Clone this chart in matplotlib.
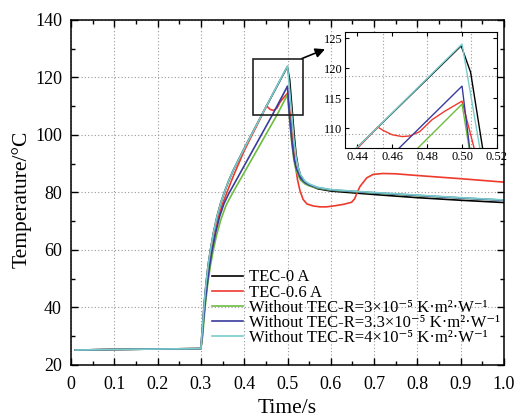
import matplotlib
matplotlib.use("Agg")
import matplotlib.pyplot as plt
from matplotlib.patches import Rectangle

plt.rcParams['font.family'] = ['Liberation Serif', 'DejaVu Serif']
plt.rcParams['mathtext.fontset'] = 'stix'

# ---------------- data ----------------
labels = ['TEC-0 A', 'TEC-0.6 A',
          'Without TEC-R=3×10⁻⁵ K·m²·W⁻¹',
          'Without TEC-R=3.3×10⁻⁵ K·m²·W⁻¹',
          'Without TEC-R=4×10⁻⁵ K·m²·W⁻¹']
colors = ['#000000', '#ee3a2c', '#6dbd3f', '#3b3b9e', '#79cccc']

base_t = [0.01, 0.10, 0.20, 0.30]
base_T = [25.2, 25.4, 25.55, 25.7]

t_black = [0.302, 0.305, 0.308, 0.312, 0.317, 0.322, 0.329, 0.337, 0.345, 0.354, 0.364,
           0.375, 0.40, 0.44, 0.4995, 0.5049, 0.5117, 0.516, 0.52, 0.525, 0.53, 0.54,
           0.55, 0.57, 0.60, 0.70, 0.80, 0.90, 1.00]
T_black = [30.0, 36.0, 42.0, 48.5, 55.0, 60.0, 66.0, 71.5, 76.0, 80.0, 84.0,
           87.8, 95.3, 106.8, 123.7, 119.3, 106.8, 99.0, 93.0, 88.5, 86.0, 83.6,
           82.5, 81.3, 80.5, 79.3, 78.2, 77.3, 76.5]

t_red = [0.303, 0.306, 0.310, 0.315, 0.320, 0.326, 0.333, 0.341, 0.350, 0.360, 0.369,
         0.378, 0.40, 0.44, 0.4517, 0.455, 0.46, 0.4658, 0.47, 0.4757, 0.4828, 0.49,
         0.50, 0.5068, 0.512, 0.517, 0.523, 0.529, 0.536, 0.545, 0.56, 0.575, 0.59,
         0.61, 0.63, 0.648, 0.655, 0.661, 0.667, 0.683, 0.698, 0.72, 0.75, 0.80,
         0.90, 1.00]
T_red = [30.0, 35.5, 42.0, 49.0, 55.0, 60.5, 66.0, 71.5, 76.0, 80.0, 83.5,
         86.8, 94.5, 106.6, 110.2, 109.6, 108.9, 108.6, 108.7, 109.4, 111.4, 112.8,
         114.5, 106.8, 98.0, 91.0, 84.5, 80.5, 77.6, 76.0, 75.3, 75.0, 75.0,
         75.4, 75.9, 76.6, 77.8, 80.0, 82.0, 85.1, 86.3, 86.6, 86.5, 85.9,
         84.8, 83.6]

t_green = [0.304, 0.307, 0.311, 0.316, 0.322, 0.328, 0.336, 0.346, 0.358, 0.372, 0.4751,
           0.50, 0.504, 0.51, 0.515, 0.52, 0.53, 0.54, 0.55, 0.57, 0.60, 0.70, 0.80,
           0.90, 1.00]
T_green = [30.0, 35.5, 42.0, 48.5, 54.5, 59.5, 65.0, 70.5, 75.5, 79.5, 106.8,
           114.0, 106.8, 97.0, 91.0, 87.5, 84.3, 83.0, 82.3, 81.5, 80.8, 79.8, 78.9,
           78.1, 77.3]

t_blue = [0.303, 0.306, 0.310, 0.315, 0.320, 0.326, 0.334, 0.343, 0.353, 0.364, 0.4644,
          0.50, 0.5043, 0.51, 0.515, 0.52, 0.53, 0.54, 0.55, 0.57, 0.60, 0.70, 0.80,
          0.90, 1.00]
T_blue = [30.0, 35.5, 42.0, 48.5, 54.5, 60.0, 66.0, 71.5, 76.0, 79.5, 106.8,
          117.0, 106.8, 98.0, 92.0, 88.5, 85.0, 83.5, 82.6, 81.7, 80.9, 79.9, 79.0,
          78.1, 77.3]

t_cyan = [0.302, 0.305, 0.308, 0.312, 0.317, 0.322, 0.329, 0.337, 0.345, 0.354, 0.364,
          0.375, 0.40, 0.44, 0.50, 0.5101, 0.515, 0.52, 0.525, 0.53, 0.54, 0.55,
          0.57, 0.60, 0.70, 0.80, 0.90, 1.00]
T_cyan = [30.0, 36.0, 42.0, 48.5, 55.0, 60.0, 66.0, 71.5, 76.0, 80.0, 84.0,
          87.8, 95.3, 106.8, 124.0, 106.8, 98.0, 92.0, 88.5, 86.2, 84.0, 83.0,
          81.8, 81.0, 80.0, 79.1, 78.2, 77.4]

series_t = [t_black, t_red, t_green, t_blue, t_cyan]
series_T = [T_black, T_red, T_green, T_blue, T_cyan]

x_ticks = [0, 0.1, 0.2, 0.3, 0.4, 0.5, 0.6, 0.7, 0.8, 0.9, 1.0]
x_ticklabels = ['0', '0.1', '0.2', '0.3', '0.4', '0.5', '0.6', '0.7', '0.8', '0.9', '1.0']
y_ticks = [20, 40, 60, 80, 100, 120, 140]
inset_xticks = [0.44, 0.46, 0.48, 0.50, 0.52]
inset_yticks = [110, 115, 120, 125]
inset_grid_x = [0.455, 0.480, 0.505]
inset_grid_y = [118.6, 109.1]

# ---------------- figure ----------------
fig = plt.figure(figsize=(5.17, 4.19), dpi=100)
ax = fig.add_axes([0.1373, 0.1289, 0.8376, 0.8234])

for t, T, c, lab in zip(series_t, series_T, colors, labels):
    ax.plot(base_t + t, base_T + T, color=c, lw=1.2, label=lab)

ax.set_xlim(0, 1.0)
ax.set_ylim(20, 140)
ax.set_xticks(x_ticks)
ax.set_xticklabels(x_ticklabels)
ax.set_yticks(y_ticks)
ax.set_xticks([0.05 + 0.1 * i for i in range(10)], minor=True)
ax.set_yticks([30, 50, 70, 90, 110, 130], minor=True)
ax.tick_params(which='both', direction='in', top=True, right=True, labelsize=13, width=1.0)
ax.tick_params(which='major', length=5)
ax.tick_params(which='minor', length=3)
ax.tick_params(axis='x', which='major', pad=8)
ax.tick_params(axis='y', which='major', pad=6.5)
ax.grid(True, which='major', linestyle=(0, (1, 2)), color='#999999', lw=0.8)
for s in ax.spines.values():
    s.set_linewidth(1.1)
ax.set_xlabel('Time/s', fontsize=15.5, labelpad=4)
ax.set_ylabel('Temperature/°C', fontsize=15.5)
ax.yaxis.set_label_coords(-0.09, 0.48)

leg = ax.legend(loc='lower left', bbox_to_anchor=(0.318, 0.045), frameon=False,
                fontsize=12, handlelength=1.85, handletextpad=0.35,
                labelspacing=-0.05, borderpad=0.2, borderaxespad=0)

ax.add_patch(Rectangle((0.42, 107.0), 0.1165, 19.4, fill=False, edgecolor='#222222', lw=1.2, zorder=5))
ax.annotate('', xy=(0.5925, 130.2), xytext=(0.527, 126.2),
            arrowprops=dict(arrowstyle='-|>', color='black', lw=1.2, mutation_scale=14))

# ---------------- inset ----------------
axi = fig.add_axes([0.6673, 0.6468, 0.294, 0.2768])
for t, T, c in zip(series_t, series_T, colors):
    axi.plot(base_t + t, base_T + T, color=c, lw=1.0)
axi.set_xlim(0.433, 0.52)
axi.set_ylim(106.7, 126.0)
axi.set_xticks(inset_xticks)
axi.set_xticklabels(['0.44', '0.46', '0.48', '0.50', '0.52'])
axi.set_yticks(inset_yticks)
axi.tick_params(direction='in', top=True, right=True, labelsize=9, length=3, pad=2)
for gx in inset_grid_x:
    axi.axvline(gx, linestyle=(0, (1, 2)), color='#999999', lw=0.8, zorder=0)
for gy in inset_grid_y:
    axi.axhline(gy, linestyle=(0, (1, 2)), color='#999999', lw=0.8, zorder=0)

fig.savefig('out.png', dpi=100)
